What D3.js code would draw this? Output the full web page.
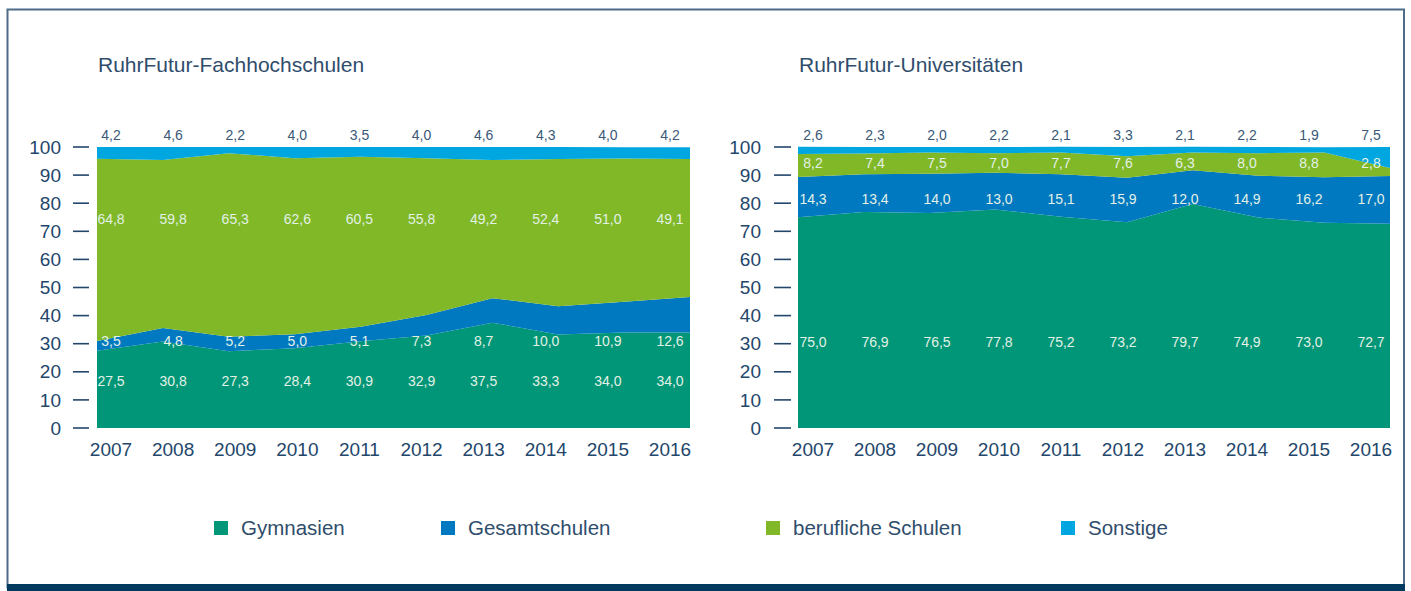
<!DOCTYPE html>
<html><head><meta charset="utf-8">
<script src="https://cdn.jsdelivr.net/npm/d3@7"></script>
<style>body{margin:0;background:#fff}svg{display:block;font-family:"Liberation Sans",Arial,sans-serif}</style>
</head><body><svg id="c" width="1411" height="591"></svg>
<script>
const years = ["2007","2008","2009","2010","2011","2012","2013","2014","2015","2016"];
const seriesNames = ["Gymnasien","Gesamtschulen","berufliche Schulen","Sonstige"];
const colors = ["#009677","#0079c1","#80b828","#00a6df"];
const yTicks = [0,10,20,30,40,50,60,70,80,90,100];

// RuhrFutur-Fachhochschulen
const fhGym   = [27.5,30.8,27.3,28.4,30.9,32.9,37.5,33.3,34.0,34.0];
const fhGes   = [3.5,4.8,5.2,5.0,5.1,7.3,8.7,10.0,10.9,12.6];
const fhBeruf = [64.8,59.8,65.3,62.6,60.5,55.8,49.2,52.4,51.0,49.1];
const fhSonst = [4.2,4.6,2.2,4.0,3.5,4.0,4.6,4.3,4.0,4.2];

// RuhrFutur-Universitäten
const uniGym   = [75.0,76.9,76.5,77.8,75.2,73.2,79.7,74.9,73.0,72.7];
const uniGes   = [14.3,13.4,14.0,13.0,15.1,15.9,12.0,14.9,16.2,17.0];
const uniBeruf = [8.2,7.4,7.5,7.0,7.7,7.6,6.3,8.0,8.8,2.8];
const uniSonst = [2.6,2.3,2.0,2.2,2.1,3.3,2.1,2.2,1.9,7.5];

const svg = d3.select("#c");
const axisCol = "#23466b";
const fmt = v => v.toFixed(1).replace(".", ",");

// frame
svg.append("rect").attr("x",7.5).attr("y",9.5).attr("width",1396.5).attr("height",578)
  .attr("fill","none").attr("stroke","#4e6c88").attr("stroke-width",2);
svg.append("rect").attr("x",7).attr("y",584).attr("width",1398).attr("height",7).attr("fill","#003a5f");

function chart(cfg){
  const {title, series, x0, x1, lx0, lx1, tickLabelX, tickX0, tickX1, labelRows} = cfg;
  const data = years.map((y,i)=>({year:y, s0:series[0][i], s1:series[1][i], s2:series[2][i], s3:series[3][i]}));
  const keys = ["s0","s1","s2","s3"];
  const stack = d3.stack().keys(keys)(data);
  const x = d3.scalePoint().domain(years).range([x0,x1]);
  const xl = d3.scalePoint().domain(years).range([lx0,lx1]);
  const y = d3.scaleLinear().domain([0,100]).range([428,147]);
  const g = svg.append("g");
  g.append("text").attr("x",x0+1).attr("y",72).attr("font-size",21).attr("fill","#2f4d6c").text(title);
  const area = d3.area().x(d=>x(d.data.year)).y0(d=>y(d[0])).y1(d=>y(d[1]));
  g.selectAll("path.a").data(stack).join("path").attr("class","a")
    .attr("d",area).attr("fill",(d,i)=>colors[i]);
  // y axis
  yTicks.forEach(t=>{
    g.append("line").attr("x1",tickX0).attr("x2",tickX1).attr("y1",y(t)).attr("y2",y(t))
      .attr("stroke",axisCol).attr("stroke-width",1.6);
    g.append("text").attr("x",tickLabelX).attr("y",y(t)).attr("dy","0.35em").attr("text-anchor","end")
      .attr("font-size",19).attr("fill",axisCol).text(t);
  });
  // x labels
  years.forEach(yr=>{
    g.append("text").attr("x",xl(yr)).attr("y",449).attr("dy","0.35em").attr("text-anchor","middle")
      .attr("font-size",19).attr("fill",axisCol).text(yr);
  });
  // value labels
  labelRows.forEach((rowY,si)=>{
    const vals = series[si];
    years.forEach((yr,i)=>{
      g.append("text").attr("x",xl(yr)).attr("y",rowY).attr("dy","0.35em").attr("text-anchor","middle")
        .attr("font-size",14).attr("fill", si===3 ? "#3a5878" : "#e3f1e6").text(fmt(vals[i]));
    });
  });
}

chart({title:"RuhrFutur-Fachhochschulen", series:[fhGym,fhGes,fhBeruf,fhSonst],
  x0:97,x1:690,lx0:111,lx1:670,tickLabelX:61,tickX0:73,tickX1:89,
  labelRows:[381,341,219,135]});
chart({title:"RuhrFutur-Universitäten", series:[uniGym,uniGes,uniBeruf,uniSonst],
  x0:798,x1:1390,lx0:813,lx1:1371,tickLabelX:761,tickX0:774,tickX1:791,
  labelRows:[342,199,163,135]});

// legend
const legX = [214,441,766,1061];
seriesNames.forEach((n,i)=>{
  svg.append("rect").attr("x",legX[i]).attr("y",521).attr("width",14).attr("height",14).attr("fill",colors[i]);
  svg.append("text").attr("x",legX[i]+27).attr("y",528).attr("dy","0.35em")
    .attr("font-size",20.5).attr("fill","#2f4d6c").text(n);
});
</script></body></html>
